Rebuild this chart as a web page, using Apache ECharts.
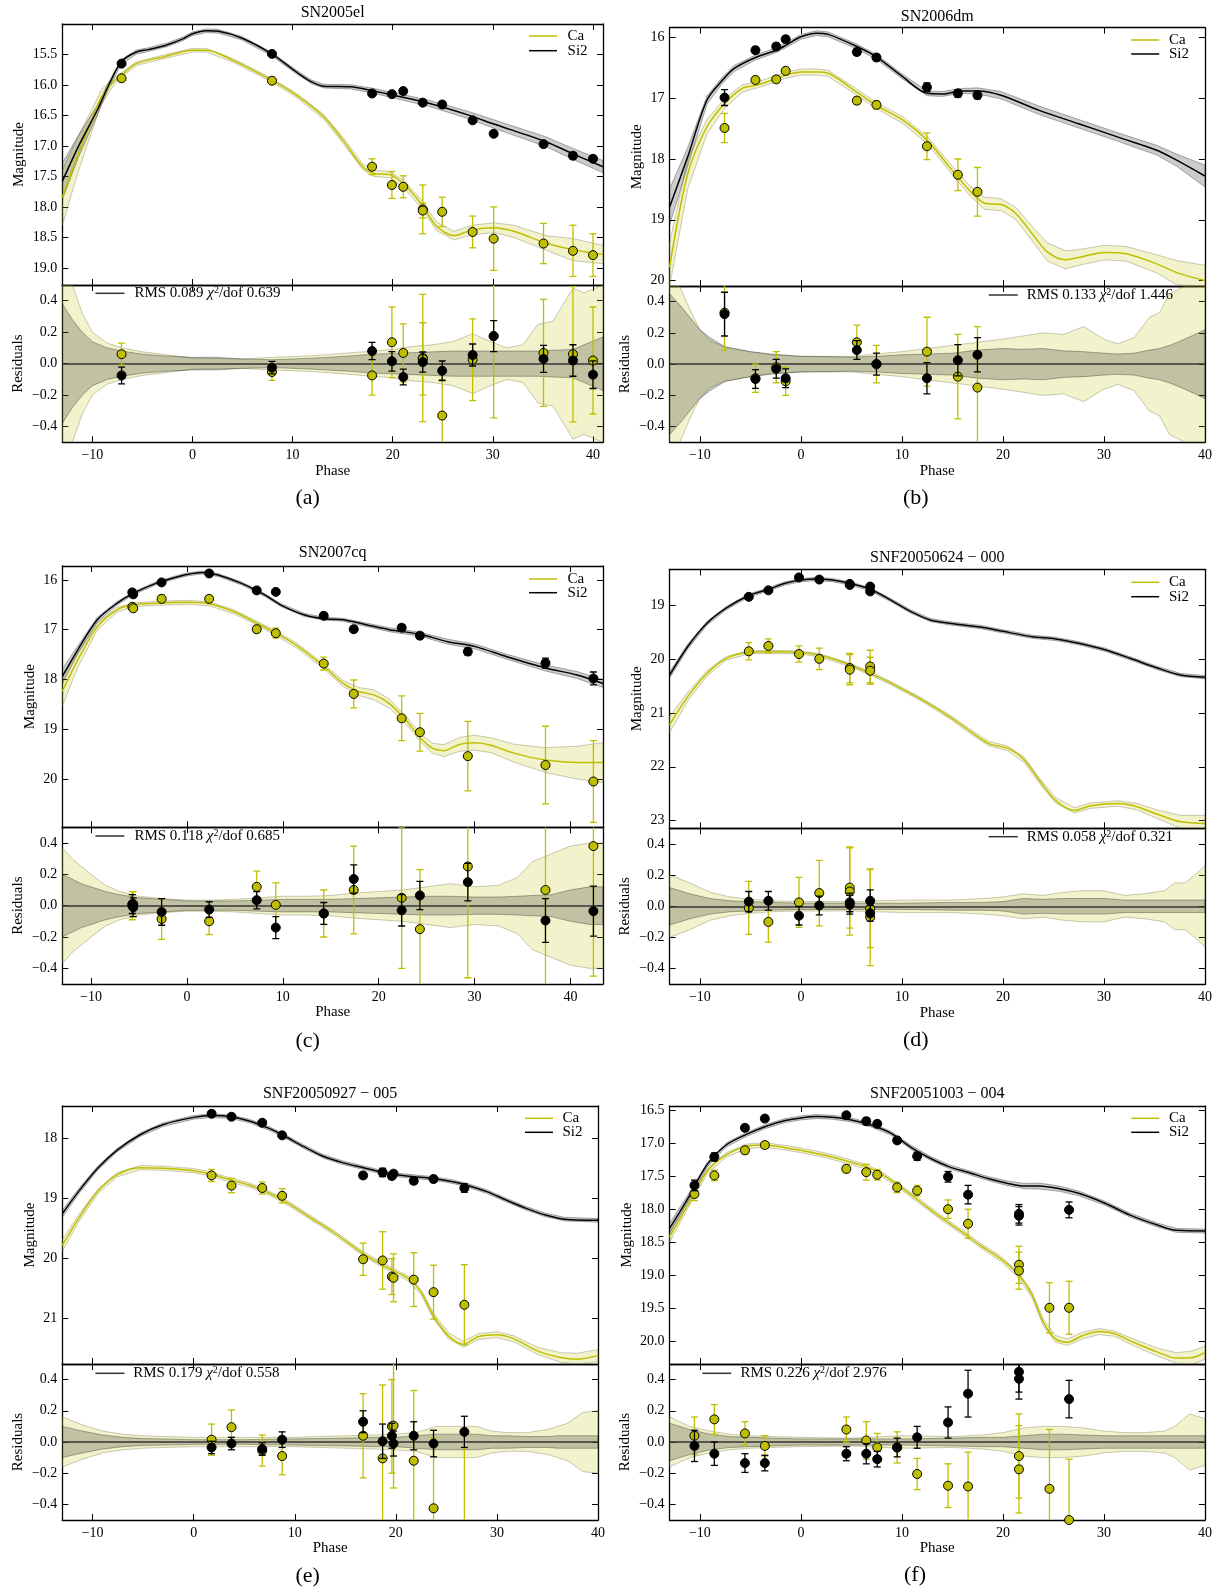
<!DOCTYPE html>
<html>
<head>
<meta charset="utf-8">
<script src="https://cdn.jsdelivr.net/npm/echarts@6/dist/echarts.min.js"></script>
<style>html,body{margin:0;padding:0;background:#fff;}#chart{width:1222px;height:1594px;}</style>
</head>
<body>
<div id="chart"></div>
<script>
// ================= DATA =================
const X_TICKS = [-10, 0, 10, 20, 30, 40];
const RES_TICKS = [-0.4, -0.2, 0, 0.2, 0.4];

// ---- (a) SN2005el ----
const A_yTicks = [15.5, 16.0, 16.5, 17.0, 17.5, 18.0, 18.5, 19.0];
const A_siPhase = [-7.08, 7.94, 17.94, 19.92, 21.05, 23.0, 24.94, 27.98, 30.08, 35.06, 38.0, 40.0];
const A_siMag = [15.65, 15.49, 16.14, 16.15, 16.10, 16.29, 16.32, 16.58, 16.80, 16.97, 17.16, 17.21];
const A_siErr = [0.03, 0.025, 0.03, 0.03, 0.03, 0.035, 0.03, 0.035, 0.04, 0.04, 0.05, 0.045];
const A_siRes = [-0.075, -0.025, 0.08, 0.015, -0.085, 0.01, -0.045, 0.055, 0.175, 0.03, 0.02, -0.07];
const A_siResErr = [0.053, 0.04, 0.055, 0.062, 0.05, 0.064, 0.062, 0.07, 0.098, 0.086, 0.1, 0.088];
const A_caPhase = [-7.08, 7.94, 17.94, 19.92, 21.05, 23.0, 23.0, 24.94, 27.98, 30.08, 35.06, 38.0, 40.0];
const A_caMag = [15.89, 15.93, 17.34, 17.64, 17.67, 18.04, 18.06, 18.08, 18.41, 18.52, 18.60, 18.72, 18.79];
const A_caErr = [0.03, 0.03, 0.13, 0.22, 0.18, 0.4, 0.12, 0.24, 0.26, 0.52, 0.33, 0.42, 0.35];
const A_caRes = [0.06, -0.053, -0.075, 0.136, 0.068, 0.036, 0.03, -0.33, 0.025, 0.175, 0.068, 0.06, 0.02];
const A_caResErr = [0.07, 0.053, 0.125, 0.225, 0.185, 0.405, 0.23, 0.23, 0.26, 0.52, 0.34, 0.43, 0.34];
const A_siCurvePhase = [-13, -11.4, -9.5, -8.3, -7.1, -5.6, -4.4, -2.5, -0.9, 0, 1.4, 2.6, 4.9, 7.9, 10.4, 11.9, 13.1, 15.8, 17.9, 20.1, 23.6, 27.5, 30.1, 35.3, 38, 41];
const A_siCurveMag = [17.58, 17.01, 16.41, 15.98, 15.62, 15.46, 15.42, 15.34, 15.24, 15.16, 15.11, 15.12, 15.23, 15.49, 15.79, 15.95, 16.02, 16.03, 16.09, 16.17, 16.30, 16.49, 16.64, 16.93, 17.13, 17.34];
const A_siBand = [0.3, 0.18, 0.08, 0.05, 0.04, 0.035, 0.03, 0.03, 0.03, 0.03, 0.03, 0.03, 0.03, 0.03, 0.03, 0.03, 0.03, 0.035, 0.04, 0.045, 0.05, 0.06, 0.07, 0.08, 0.09, 0.1];
const A_caCurvePhase = [-13, -11.5, -10.3, -9.1, -7.9, -7.1, -5.6, -2.9, 0, 1.4, 4.1, 7.9, 10.4, 13.1, 15.0, 17.0, 18.1, 19.7, 21.2, 22.8, 24.4, 26.1, 27.9, 30.1, 32.1, 35.3, 38, 41];
const A_caCurveMag = [17.85, 17.17, 16.68, 16.2, 15.95, 15.84, 15.65, 15.54, 15.43, 15.43, 15.6, 15.92, 16.17, 16.52, 16.9, 17.34, 17.45, 17.47, 17.64, 17.94, 18.32, 18.47, 18.38, 18.34, 18.40, 18.59, 18.70, 18.78];
const A_caBand = [0.45, 0.3, 0.2, 0.12, 0.06, 0.04, 0.03, 0.03, 0.03, 0.03, 0.03, 0.03, 0.035, 0.04, 0.05, 0.05, 0.05, 0.05, 0.06, 0.07, 0.07, 0.07, 0.08, 0.08, 0.1, 0.12, 0.18, 0.15];
const A_rbPhase = [-13, -12, -11, -10, -8.5, -7, -5, -3, 0, 2.5, 5, 8, 12, 16, 18, 20, 22, 24, 26, 28, 29.4, 31.4, 33, 34.5, 36, 38, 39.1, 41];
const A_rbCa = [0.75, 0.5, 0.32, 0.2, 0.13, 0.1, 0.075, 0.06, 0.035, 0.032, 0.03, 0.04, 0.05, 0.07, 0.08, 0.09, 0.11, 0.12, 0.14, 0.19, 0.15, 0.1, 0.12, 0.25, 0.27, 0.48, 0.45, 0.55];
const A_rbSi = [0.38, 0.28, 0.2, 0.14, 0.1, 0.08, 0.06, 0.05, 0.04, 0.04, 0.03, 0.025, 0.035, 0.05, 0.06, 0.065, 0.07, 0.075, 0.08, 0.08, 0.08, 0.08, 0.08, 0.08, 0.085, 0.09, 0.12, 0.17];

// ---- (b) SN2006dm ----
const B_yTicks = [16, 17, 18, 19, 20];
const B_siPhase = [-7.56, -4.5, -2.44, -1.51, 5.54, 7.48, 12.48, 15.54, 17.48];
const B_siMag = [16.99, 16.21, 16.15, 16.03, 16.24, 16.33, 16.82, 16.92, 16.95];
const B_siErr = [0.13, 0.05, 0.05, 0.05, 0.05, 0.05, 0.07, 0.06, 0.06];
const B_siRes = [0.32, -0.095, -0.03, -0.09, 0.09, 0.0, -0.09, 0.025, 0.06];
const B_siResErr = [0.14, 0.06, 0.06, 0.06, 0.06, 0.07, 0.1, 0.1, 0.11];
const B_caPhase = [-7.56, -4.5, -2.44, -1.51, 5.54, 7.48, 12.48, 15.54, 17.48];
const B_caMag = [17.49, 16.70, 16.69, 16.55, 17.04, 17.11, 17.79, 18.26, 18.54];
const B_caErr = [0.24, 0.06, 0.05, 0.05, 0.06, 0.06, 0.22, 0.26, 0.4];
const B_caRes = [0.33, -0.09, -0.02, -0.11, 0.14, 0.0, 0.08, -0.08, -0.15];
const B_caResErr = [0.24, 0.09, 0.1, 0.09, 0.11, 0.12, 0.22, 0.27, 0.39];
const B_siCurvePhase = [-13, -11.2, -9.3, -7.75, -6.6, -4.5, -2.44, -1.5, 0, 1.55, 2.7, 5.54, 7.48, 10.1, 12.5, 14.0, 15.9, 17.5, 19.8, 23.6, 27.5, 31.4, 35.3, 37.2, 40];
const B_siCurveMag = [18.79, 17.96, 17.03, 16.70, 16.51, 16.33, 16.21, 16.13, 15.99, 15.93, 15.95, 16.15, 16.32, 16.65, 16.92, 16.93, 16.88, 16.88, 16.95, 17.20, 17.42, 17.64, 17.86, 18.02, 18.28];
const B_siBand = [0.3, 0.15, 0.07, 0.05, 0.05, 0.04, 0.04, 0.04, 0.04, 0.04, 0.04, 0.04, 0.04, 0.04, 0.04, 0.04, 0.04, 0.05, 0.06, 0.07, 0.07, 0.07, 0.08, 0.1, 0.18];
const B_caCurvePhase = [-13, -11.2, -9.3, -7.56, -5.8, -4.5, -2.44, -1.5, 0, 1.55, 2.7, 5.54, 7.48, 10.1, 12.5, 14.7, 16.7, 18.2, 19.8, 21.3, 22.9, 24.4, 26.2, 27.5, 30.1, 32.2, 35.3, 37.2, 40];
const B_caCurveMag = [19.78, 18.24, 17.47, 17.09, 16.84, 16.79, 16.68, 16.62, 16.57, 16.57, 16.59, 16.90, 17.12, 17.36, 17.69, 18.13, 18.52, 18.73, 18.75, 18.90, 19.23, 19.53, 19.66, 19.62, 19.54, 19.56, 19.73, 19.87, 20.0];
const B_caBand = [0.4, 0.25, 0.12, 0.08, 0.06, 0.05, 0.05, 0.05, 0.05, 0.05, 0.05, 0.05, 0.05, 0.055, 0.06, 0.07, 0.08, 0.1, 0.1, 0.1, 0.12, 0.15, 0.15, 0.13, 0.12, 0.12, 0.15, 0.2, 0.25];
const B_rbPhase = [-13, -12, -11, -10, -9, -7.5, -5, -3, 0, 5, 7.5, 10, 12.5, 15, 17.5, 20, 22, 24, 26, 28, 30, 31.4, 33, 34.5, 35.5, 36.5, 38, 40];
const B_rbCa = [1.0, 0.6, 0.35, 0.22, 0.15, 0.11, 0.08, 0.06, 0.05, 0.05, 0.065, 0.08, 0.1, 0.12, 0.14, 0.16, 0.18, 0.2, 0.19, 0.24, 0.16, 0.13, 0.17, 0.3, 0.33, 0.45, 0.5, 0.7];
const B_rbSi = [0.45, 0.38, 0.3, 0.22, 0.17, 0.11, 0.08, 0.065, 0.05, 0.045, 0.05, 0.06, 0.065, 0.07, 0.09, 0.1, 0.095, 0.1, 0.085, 0.08, 0.07, 0.065, 0.07, 0.09, 0.1, 0.12, 0.16, 0.22];

// ---- (c) SN2007cq ----
const C_yTicks = [16, 17, 18, 19, 20];
const C_siPhase = [-5.7, -5.6, -2.64, 2.32, 7.28, 9.27, 14.27, 17.4, 22.4, 24.3, 29.3, 37.4, 42.4];
const C_siMag = [16.25, 16.29, 16.05, 15.87, 16.21, 16.24, 16.72, 16.99, 16.96, 17.12, 17.44, 17.67, 17.98];
const C_siErr = [0.04, 0.04, 0.05, 0.03, 0.04, 0.04, 0.05, 0.06, 0.06, 0.06, 0.07, 0.1, 0.13];
const C_siRes = [0.01, -0.01, -0.04, -0.025, 0.035, -0.14, -0.05, 0.17, -0.03, 0.065, 0.15, -0.095, -0.035];
const C_siResErr = [0.06, 0.06, 0.085, 0.05, 0.055, 0.07, 0.07, 0.09, 0.1, 0.09, 0.12, 0.14, 0.16];
const C_caPhase = [-5.7, -5.6, -2.64, 2.32, 7.28, 9.27, 14.27, 17.4, 22.4, 24.3, 29.3, 37.4, 42.4];
const C_caMag = [16.54, 16.57, 16.38, 16.38, 16.99, 17.07, 17.68, 18.29, 18.78, 19.06, 19.54, 19.72, 20.05];
const C_caErr = [0.05, 0.05, 0.08, 0.06, 0.07, 0.1, 0.13, 0.28, 0.45, 0.38, 0.7, 0.78, 0.82];
const C_caRes = [0.0, 0.01, -0.085, -0.1, 0.12, 0.005, -0.05, 0.1, 0.05, -0.15, 0.25, 0.1, 0.38];
const C_caResErr = [0.09, 0.08, 0.13, 0.085, 0.1, 0.14, 0.15, 0.28, 0.45, 0.38, 0.71, 0.78, 0.83];
const C_siCurvePhase = [-13, -11.4, -9.35, -7.3, -5.6, -3.25, -1.6, 0, 1.6, 3.25, 5.7, 8.1, 9.75, 12.2, 14.3, 16.3, 18.7, 21.1, 24.3, 27.2, 30.1, 33.3, 37.4, 40.7, 43.4];
const C_siCurveMag = [17.94, 17.41, 16.80, 16.47, 16.27, 16.07, 15.97, 15.89, 15.85, 15.90, 16.07, 16.30, 16.50, 16.70, 16.78, 16.80, 16.90, 17.0, 17.09, 17.24, 17.34, 17.54, 17.77, 17.91, 18.08];
const C_siBand = [0.15, 0.08, 0.05, 0.035, 0.03, 0.03, 0.03, 0.03, 0.03, 0.03, 0.03, 0.03, 0.03, 0.03, 0.03, 0.03, 0.035, 0.04, 0.04, 0.05, 0.05, 0.05, 0.06, 0.07, 0.08];
const C_caCurvePhase = [-13, -11.4, -9.35, -7.3, -5.6, -3.25, 0, 2.3, 4.9, 7.3, 9.3, 11.4, 14.3, 16.3, 17.9, 19.5, 21.1, 22.8, 24.4, 25.6, 26.8, 28.5, 30.0, 31.7, 34.1, 37.4, 40.7, 43.4];
const C_caCurveMag = [18.24, 17.61, 16.94, 16.60, 16.50, 16.47, 16.45, 16.48, 16.64, 16.87, 17.07, 17.31, 17.74, 18.08, 18.24, 18.31, 18.48, 18.81, 19.18, 19.38, 19.43, 19.30, 19.27, 19.32, 19.48, 19.62, 19.67, 19.67];
const C_caBand = [0.3, 0.15, 0.07, 0.05, 0.04, 0.04, 0.04, 0.04, 0.04, 0.04, 0.045, 0.05, 0.05, 0.06, 0.08, 0.1, 0.09, 0.08, 0.08, 0.1, 0.12, 0.14, 0.15, 0.15, 0.18, 0.25, 0.33, 0.4];
const C_rbPhase = [-13, -12, -11, -10, -8.5, -7, -5, -2.5, 0, 2.5, 5, 7.5, 10, 12.5, 15, 17.5, 20, 22.5, 25, 27.5, 30, 32.5, 34.5, 36, 38, 40, 42, 43.4];
const C_rbCa = [0.37, 0.3, 0.25, 0.2, 0.13, 0.09, 0.06, 0.045, 0.035, 0.035, 0.04, 0.05, 0.06, 0.06, 0.065, 0.08, 0.09, 0.1, 0.12, 0.14, 0.12, 0.13, 0.18, 0.28, 0.33, 0.38, 0.4, 0.4];
const C_rbSi = [0.2, 0.17, 0.14, 0.12, 0.09, 0.07, 0.05, 0.04, 0.03, 0.03, 0.03, 0.035, 0.04, 0.04, 0.04, 0.045, 0.05, 0.055, 0.06, 0.06, 0.055, 0.055, 0.06, 0.065, 0.07, 0.1, 0.12, 0.12];

// ---- (d) SNF20050624-000 ----
const D_yTicks = [19, 20, 21, 22, 23];
const D_siPhase = [-5.16, -3.22, -0.19, 1.82, 4.84, 4.84, 6.86, 6.86];
const D_siMag = [18.85, 18.73, 18.49, 18.53, 18.61, 18.63, 18.66, 18.75];
const D_siErr = [0.04, 0.03, 0.03, 0.03, 0.04, 0.04, 0.04, 0.04];
const D_siRes = [0.03, 0.035, -0.06, 0.005, 0.025, 0.01, 0.035, -0.045];
const D_siResErr = [0.065, 0.06, 0.06, 0.06, 0.06, 0.06, 0.07, 0.05];
const D_caPhase = [-5.16, -3.22, -0.19, 1.82, 4.84, 4.84, 6.86, 6.86];
const D_caMag = [19.86, 19.76, 19.91, 20.0, 20.17, 20.2, 20.14, 20.22];
const D_caErr = [0.16, 0.13, 0.15, 0.2, 0.27, 0.28, 0.3, 0.25];
const D_caRes = [-0.01, -0.1, 0.025, 0.085, 0.12, 0.095, -0.015, -0.07];
const D_caResErr = [0.17, 0.13, 0.16, 0.21, 0.26, 0.28, 0.25, 0.31];
const D_siCurvePhase = [-13, -11.2, -9.3, -7.4, -5.2, -3.2, -1.55, 0, 1.55, 3.1, 4.85, 6.86, 8.9, 10.85, 12.8, 14.7, 17.8, 20.0, 22.9, 25.2, 27.5, 30.1, 32.6, 35.3, 37.6, 40];
const D_siCurveMag = [20.30, 19.77, 19.34, 19.06, 18.83, 18.71, 18.60, 18.54, 18.52, 18.54, 18.60, 18.71, 18.91, 19.12, 19.28, 19.34, 19.41, 19.49, 19.59, 19.63, 19.71, 19.83, 19.99, 20.17, 20.30, 20.34];
const D_siBand = [0.06, 0.045, 0.035, 0.03, 0.03, 0.03, 0.03, 0.03, 0.03, 0.03, 0.03, 0.03, 0.03, 0.03, 0.03, 0.03, 0.03, 0.03, 0.03, 0.03, 0.03, 0.03, 0.03, 0.03, 0.03, 0.03];
const D_caCurvePhase = [-13, -11.2, -9.3, -7.4, -5.2, -3.2, -0.2, 1.8, 4.85, 6.86, 8.9, 12.0, 14.7, 17.05, 18.6, 20.5, 22.1, 23.6, 25.2, 27.1, 28.7, 31.4, 33.3, 35.3, 37.6, 40];
const D_caCurveMag = [21.22, 20.70, 20.27, 19.99, 19.88, 19.87, 19.88, 19.93, 20.11, 20.27, 20.45, 20.76, 21.07, 21.38, 21.57, 21.66, 21.87, 22.25, 22.62, 22.81, 22.72, 22.68, 22.74, 22.88, 23.02, 23.05];
const D_caBand = [0.15, 0.08, 0.05, 0.035, 0.03, 0.03, 0.03, 0.03, 0.03, 0.03, 0.03, 0.03, 0.035, 0.04, 0.04, 0.045, 0.05, 0.05, 0.05, 0.05, 0.05, 0.05, 0.06, 0.08, 0.12, 0.15];
const D_rbPhase = [-13, -11, -9, -7, -5, -3, 0, 5, 10, 15, 18, 20, 22, 24, 26, 28, 30, 32, 34, 36, 37, 38, 39, 40];
const D_rbCa = [0.2, 0.15, 0.09, 0.06, 0.045, 0.035, 0.03, 0.03, 0.04, 0.04, 0.05, 0.06, 0.08, 0.07, 0.09, 0.1, 0.1, 0.07, 0.08, 0.1, 0.15, 0.15, 0.2, 0.26];
const D_rbSi = [0.12, 0.08, 0.05, 0.035, 0.03, 0.025, 0.02, 0.02, 0.02, 0.025, 0.025, 0.03, 0.05, 0.045, 0.05, 0.05, 0.05, 0.04, 0.04, 0.04, 0.04, 0.04, 0.04, 0.04];

// ---- (e) SNF20050927-005 ----
const E_yTicks = [18, 19, 20, 21];
const E_siPhase = [1.77, 3.74, 6.78, 8.75, 16.76, 18.69, 19.61, 19.77, 21.77, 23.73, 26.78];
const E_siMag = [17.59, 17.64, 17.74, 17.95, 18.62, 18.57, 18.63, 18.59, 18.71, 18.68, 18.83];
const E_siErr = [0.03, 0.03, 0.03, 0.03, 0.05, 0.07, 0.05, 0.05, 0.05, 0.05, 0.07];
const E_siRes = [-0.035, -0.01, -0.045, 0.015, 0.13, 0.005, 0.04, -0.01, 0.04, -0.01, 0.065];
const E_siResErr = [0.04, 0.04, 0.04, 0.05, 0.07, 0.11, 0.08, 0.08, 0.09, 0.085, 0.1];
const E_caPhase = [1.77, 3.74, 6.78, 8.75, 16.76, 18.69, 19.61, 19.77, 21.77, 23.73, 26.78];
const E_caMag = [18.62, 18.79, 18.83, 18.96, 20.02, 20.04, 20.31, 20.33, 20.36, 20.57, 20.78];
const E_caErr = [0.1, 0.12, 0.1, 0.12, 0.27, 0.48, 0.3, 0.4, 0.45, 0.45, 0.67];
const E_caRes = [0.015, 0.095, -0.055, -0.09, 0.04, -0.105, 0.1, 0.105, -0.12, -0.425, -0.62];
const E_caResErr = [0.1, 0.11, 0.1, 0.12, 0.27, 0.47, 0.3, 0.4, 0.45, 0.45, 0.67];
const E_siCurvePhase = [-13, -11.4, -9.5, -7.6, -5.3, -3.0, 0, 1.8, 3.7, 5.5, 7.4, 8.75, 10.9, 12.8, 14.8, 16.8, 18.7, 20.0, 21.8, 23.7, 25.5, 26.8, 29.0, 30.9, 32.9, 34.8, 36.7, 40];
const E_siCurveMag = [19.26, 18.89, 18.50, 18.20, 17.94, 17.77, 17.65, 17.62, 17.64, 17.71, 17.83, 17.94, 18.14, 18.30, 18.41, 18.49, 18.57, 18.61, 18.64, 18.67, 18.72, 18.77, 18.89, 19.03, 19.17, 19.28, 19.35, 19.37];
const E_siBand = [0.06, 0.045, 0.035, 0.03, 0.03, 0.03, 0.03, 0.03, 0.03, 0.03, 0.03, 0.03, 0.03, 0.03, 0.03, 0.03, 0.03, 0.03, 0.03, 0.03, 0.03, 0.03, 0.03, 0.03, 0.03, 0.03, 0.03, 0.03];
const E_caCurvePhase = [-13, -11.4, -9.5, -7.6, -5.3, -3.0, 0, 1.8, 3.7, 5.5, 7.4, 9.4, 11.7, 14.0, 16.8, 18.7, 20.0, 21.3, 22.5, 23.7, 25.2, 26.7, 28.2, 30, 31.7, 34.0, 36.3, 37.9, 40];
const E_caCurveMag = [19.79, 19.34, 18.89, 18.61, 18.49, 18.50, 18.54, 18.60, 18.70, 18.78, 18.91, 19.09, 19.34, 19.59, 19.93, 20.12, 20.23, 20.35, 20.57, 20.96, 21.30, 21.44, 21.31, 21.28, 21.35, 21.55, 21.66, 21.69, 21.63];
const E_caBand = [0.1, 0.06, 0.04, 0.035, 0.035, 0.035, 0.035, 0.035, 0.035, 0.035, 0.035, 0.035, 0.035, 0.035, 0.035, 0.04, 0.04, 0.04, 0.045, 0.05, 0.05, 0.05, 0.05, 0.05, 0.05, 0.06, 0.08, 0.1, 0.1];
const E_rbPhase = [-13, -11, -9, -7, -5, -3, 0, 5, 10, 15, 18, 20, 22, 24, 26, 28, 29.5, 31, 33, 35, 36, 37, 38.5, 40];
const E_rbCa = [0.16, 0.11, 0.07, 0.05, 0.04, 0.035, 0.03, 0.03, 0.03, 0.04, 0.045, 0.05, 0.06, 0.1, 0.1, 0.1, 0.07, 0.06, 0.06, 0.08, 0.1, 0.12, 0.19, 0.2];
const E_rbSi = [0.1, 0.07, 0.045, 0.03, 0.022, 0.02, 0.015, 0.015, 0.02, 0.025, 0.03, 0.03, 0.04, 0.05, 0.05, 0.05, 0.04, 0.04, 0.035, 0.035, 0.04, 0.04, 0.04, 0.04];

// ---- (f) SNF20051003-004 ----
const F_yTicks = [16.5, 17.0, 17.5, 18.0, 18.5, 19.0, 19.5, 20.0];
const F_siPhase = [-10.54, -8.57, -5.54, -3.57, 4.5, 6.47, 7.56, 9.53, 11.51, 14.57, 16.55, 21.59, 21.59, 26.55];
const F_siMag = [17.64, 17.21, 16.77, 16.63, 16.58, 16.67, 16.71, 16.96, 17.20, 17.51, 17.78, 18.07, 18.10, 18.01];
const F_siErr = [0.08, 0.06, 0.04, 0.04, 0.04, 0.05, 0.04, 0.04, 0.06, 0.08, 0.14, 0.14, 0.14, 0.12];
const F_siRes = [-0.025, -0.075, -0.135, -0.135, -0.075, -0.075, -0.11, -0.035, 0.03, 0.125, 0.31, 0.45, 0.405, 0.275];
const F_siResErr = [0.1, 0.075, 0.06, 0.05, 0.045, 0.065, 0.05, 0.06, 0.07, 0.1, 0.15, 0.13, 0.13, 0.12];
const F_caPhase = [-10.54, -8.57, -5.54, -3.57, 4.5, 6.47, 7.56, 9.53, 11.51, 14.57, 16.55, 21.59, 21.59, 24.61, 26.55];
const F_caMag = [17.77, 17.49, 17.11, 17.03, 17.39, 17.44, 17.48, 17.67, 17.72, 18.0, 18.22, 18.84, 18.93, 19.49, 19.49];
const F_caErr = [0.1, 0.08, 0.06, 0.05, 0.06, 0.12, 0.08, 0.08, 0.08, 0.14, 0.22, 0.28, 0.28, 0.38, 0.4];
const F_caRes = [0.04, 0.145, 0.055, -0.025, 0.08, 0.01, -0.035, -0.035, -0.205, -0.28, -0.285, -0.09, -0.175, -0.3, -0.5];
const F_caResErr = [0.12, 0.095, 0.075, 0.065, 0.08, 0.12, 0.09, 0.1, 0.1, 0.14, 0.22, 0.27, 0.28, 0.38, 0.39];
const F_siCurvePhase = [-13, -11.2, -9.3, -7.4, -5.4, -3.5, -1.55, 0, 1.55, 3.1, 5.0, 7.0, 8.9, 10.85, 12.8, 14.7, 16.7, 18.6, 20.5, 22.1, 23.6, 25.6, 27.5, 30.1, 32.6, 35.3, 37.2, 40];
const F_siCurveMag = [18.29, 17.84, 17.33, 17.03, 16.87, 16.75, 16.66, 16.62, 16.60, 16.61, 16.65, 16.73, 16.85, 17.06, 17.23, 17.36, 17.45, 17.54, 17.61, 17.65, 17.65, 17.69, 17.76, 17.91, 18.09, 18.24, 18.32, 18.33];
const F_siBand = [0.08, 0.05, 0.035, 0.03, 0.03, 0.03, 0.03, 0.03, 0.03, 0.03, 0.03, 0.03, 0.03, 0.03, 0.03, 0.03, 0.03, 0.03, 0.035, 0.04, 0.045, 0.04, 0.035, 0.03, 0.03, 0.03, 0.03, 0.03];
const F_caCurvePhase = [-13, -11.2, -9.3, -7.4, -5.4, -3.6, -1.55, 0, 2.3, 4.5, 6.5, 8.1, 10.1, 12.0, 14.0, 15.9, 17.8, 19.8, 21.6, 22.9, 24.0, 25.2, 26.4, 27.9, 29.5, 31.0, 32.9, 35.3, 37.2, 38.8, 40];
const F_caCurveMag = [18.42, 17.94, 17.43, 17.18, 17.05, 17.03, 17.07, 17.11, 17.18, 17.27, 17.36, 17.48, 17.69, 17.91, 18.14, 18.34, 18.55, 18.75, 19.0, 19.30, 19.71, 19.96, 20.01, 19.91, 19.85, 19.88, 20.01, 20.16, 20.25, 20.24, 20.17];
const F_caBand = [0.08, 0.05, 0.04, 0.035, 0.035, 0.035, 0.035, 0.035, 0.035, 0.035, 0.035, 0.035, 0.035, 0.035, 0.035, 0.035, 0.035, 0.04, 0.04, 0.045, 0.05, 0.05, 0.05, 0.05, 0.045, 0.04, 0.05, 0.06, 0.08, 0.1, 0.1];
const F_rbPhase = [-13, -11, -9, -7, -5, -3, 0, 5, 10, 15, 18, 20, 22, 24, 26, 28, 30, 32, 34, 36, 37, 38.5, 40];
const F_rbCa = [0.16, 0.1, 0.07, 0.05, 0.04, 0.035, 0.03, 0.025, 0.04, 0.035, 0.045, 0.06, 0.09, 0.1, 0.1, 0.09, 0.07, 0.06, 0.06, 0.07, 0.1, 0.18, 0.15];
const F_rbSi = [0.12, 0.08, 0.05, 0.035, 0.03, 0.025, 0.02, 0.02, 0.02, 0.025, 0.03, 0.03, 0.04, 0.05, 0.05, 0.045, 0.04, 0.04, 0.04, 0.04, 0.04, 0.04, 0.04];

// ================= PANEL CONFIG (references data + layout) =================
const PANELS = [
  { sub: '(a)', title: 'SN2005el', rms: '0.089', chi: '0.639',
    si: [A_siPhase, A_siMag, A_siErr, A_siRes, A_siResErr, A_siCurvePhase, A_siCurveMag, A_siBand],
    ca: [A_caPhase, A_caMag, A_caErr, A_caRes, A_caResErr, A_caCurvePhase, A_caCurveMag, A_caBand],
    rb: [A_rbPhase, A_rbCa, A_rbSi], yTicks: A_yTicks, dec: 1, y: [15.0, 19.28], x: [-13, 41],
    L: { l: 62.3, r: 603, mt: 24, mb: 285, rb: 442.3, magGap: 36, resGap: 37, titleY: 12.7, subX: 307.7, subY: 498,
         lgX: 529, lgY1: 36, lgY2: 50.7, lgT: 567.6, rmX: 95.4, rmY: 293.3, rmT: 134.4 } },
  { sub: '(b)', title: 'SN2006dm', rms: '0.133', chi: '1.446',
    si: [B_siPhase, B_siMag, B_siErr, B_siRes, B_siResErr, B_siCurvePhase, B_siCurveMag, B_siBand],
    ca: [B_caPhase, B_caMag, B_caErr, B_caRes, B_caResErr, B_caCurvePhase, B_caCurveMag, B_caBand],
    rb: [B_rbPhase, B_rbCa, B_rbSi], yTicks: B_yTicks, dec: 0, y: [15.84, 20.09], x: [-13, 40],
    L: { l: 669.6, r: 1204.9, mt: 27.7, mb: 286, rb: 442.3, magGap: 25, resGap: 37, titleY: 16.7, subX: 915.8, subY: 498.3,
         lgX: 1131.2, lgY1: 40, lgY2: 54, lgT: 1169, rmX: 988.7, rmY: 295, rmT: 1026.8 } },
  { sub: '(c)', title: 'SN2007cq', rms: '0.118', chi: '0.685',
    si: [C_siPhase, C_siMag, C_siErr, C_siRes, C_siResErr, C_siCurvePhase, C_siCurveMag, C_siBand],
    ca: [C_caPhase, C_caMag, C_caErr, C_caRes, C_caResErr, C_caCurvePhase, C_caCurveMag, C_caBand],
    rb: [C_rbPhase, C_rbCa, C_rbSi], yTicks: C_yTicks, dec: 0, y: [15.72, 20.97], x: [-13, 43.4],
    L: { l: 62.3, r: 603, mt: 566, mb: 827.3, rb: 984, magGap: 25, resGap: 37, titleY: 552.7, subX: 307.7, subY: 1041.7,
         lgX: 529, lgY1: 579, lgY2: 592.7, lgT: 567.6, rmX: 95.4, rmY: 836, rmT: 134.4 } },
  { sub: '(d)', title: 'SNF20050624 \u2212 000', rms: '0.058', chi: '0.321',
    si: [D_siPhase, D_siMag, D_siErr, D_siRes, D_siResErr, D_siCurvePhase, D_siCurveMag, D_siBand],
    ca: [D_caPhase, D_caMag, D_caErr, D_caRes, D_caResErr, D_caCurvePhase, D_caCurveMag, D_caBand],
    rb: [D_rbPhase, D_rbCa, D_rbSi], yTicks: D_yTicks, dec: 0, y: [18.34, 23.14], x: [-13, 40],
    L: { l: 669.6, r: 1204.9, mt: 569.3, mb: 828.3, rb: 984.3, magGap: 25, resGap: 37, titleY: 557.3, subX: 915.8, subY: 1040,
         lgX: 1131.2, lgY1: 582.3, lgY2: 596.7, lgT: 1169, rmX: 988.7, rmY: 836.7, rmT: 1026.8 } },
  { sub: '(e)', title: 'SNF20050927 \u2212 005', rms: '0.179', chi: '0.558',
    si: [E_siPhase, E_siMag, E_siErr, E_siRes, E_siResErr, E_siCurvePhase, E_siCurveMag, E_siBand],
    ca: [E_caPhase, E_caMag, E_caErr, E_caRes, E_caResErr, E_caCurvePhase, E_caCurveMag, E_caBand],
    rb: [E_rbPhase, E_rbCa, E_rbSi], yTicks: E_yTicks, dec: 0, y: [17.46, 21.77], x: [-13, 40],
    L: { l: 62.3, r: 598, mt: 1106, mb: 1364, rb: 1520, magGap: 25, resGap: 37, titleY: 1093.3, subX: 307.7, subY: 1576.7,
         lgX: 525, lgY1: 1118.3, lgY2: 1132.3, lgT: 562.5, rmX: 95.4, rmY: 1373.3, rmT: 133.2 } },
  { sub: '(f)', title: 'SNF20051003 \u2212 004', rms: '0.226', chi: '2.976',
    si: [F_siPhase, F_siMag, F_siErr, F_siRes, F_siResErr, F_siCurvePhase, F_siCurveMag, F_siBand],
    ca: [F_caPhase, F_caMag, F_caErr, F_caRes, F_caResErr, F_caCurvePhase, F_caCurveMag, F_caBand],
    rb: [F_rbPhase, F_rbCa, F_rbSi], yTicks: F_yTicks, dec: 1, y: [16.44, 20.34], x: [-13, 40],
    L: { l: 669.6, r: 1204.9, mt: 1106, mb: 1364, rb: 1520, magGap: 35, resGap: 37, titleY: 1094, subX: 915, subY: 1575,
         lgX: 1131.2, lgY1: 1118.3, lgY2: 1132.3, lgT: 1169, rmX: 702.3, rmY: 1373.3, rmT: 740.5 } }
];

// ================= BUILD =================
const FONT = 'Liberation Serif';
const CA_COL = '#bfbf00';
const CA_FILL = 'rgba(191,191,0,0.2)';
const CA_EDGE = 'rgba(110,110,60,0.35)';
const SI_FILL = 'rgba(0,0,0,0.2)';
const SI_EDGE = 'rgba(0,0,0,0.3)';
const minus = s => String(s).replace('-', '\u2212');

function bandSeries(xi, yi, phases, center, half, fill, stroke, ext, z) {
  const n = Math.min(phases.length, half.length, center ? center.length : Infinity);
  const data = [];
  for (let i = 0; i < n; i++) {
    const c = center ? center[i] : 0;
    data.push([phases[i], c - half[i], c + half[i]]);
  }
  const clampV = v => Math.max(ext[0], Math.min(ext[1], v));
  return {
    type: 'custom', xAxisIndex: xi, yAxisIndex: yi, z: z, silent: true, clip: true,
    data: data,
    renderItem: function (params, api) {
      if (params.dataIndexInside !== 0) return null;
      const m = params.dataInsideLength;
      const up = [], lo = [];
      for (let i = 0; i < m; i++) {
        const x = api.value(0, i);
        up.push(api.coord([x, clampV(api.value(2, i))]));
        lo.push(api.coord([x, clampV(api.value(1, i))]));
      }
      return { type: 'polygon', shape: { points: up.concat(lo.reverse()) },
               style: { fill: fill, stroke: stroke, lineWidth: 1 } };
    }
  };
}

function errSeries(xi, yi, phases, vals, errs, color, ext, z) {
  const data = phases.map((p, i) => [p, vals[i], errs[i]]);
  return {
    type: 'custom', xAxisIndex: xi, yAxisIndex: yi, z: z, silent: true, clip: true,
    data: data,
    renderItem: function (params, api) {
      const x = api.value(0), v = api.value(1), e = api.value(2);
      const lo = v - e, hi = v + e;
      const loC = Math.max(lo, ext[0]), hiC = Math.min(hi, ext[1]);
      if (loC >= hiC) return null;
      const p1 = api.coord([x, loC]), p2 = api.coord([x, hiC]);
      const st = { stroke: color, lineWidth: 1.3 };
      const ch = [{ type: 'line', shape: { x1: p1[0], y1: p1[1], x2: p2[0], y2: p2[1] }, style: st }];
      const cw = 3.5;
      if (lo >= ext[0]) ch.push({ type: 'line', shape: { x1: p1[0] - cw, y1: p1[1], x2: p1[0] + cw, y2: p1[1] }, style: st });
      if (hi <= ext[1]) ch.push({ type: 'line', shape: { x1: p2[0] - cw, y1: p2[1], x2: p2[0] + cw, y2: p2[1] }, style: st });
      return { type: 'group', children: ch };
    }
  };
}

function scatterSeries(xi, yi, phases, vals, fill, z, extra) {
  const s = {
    type: 'scatter', xAxisIndex: xi, yAxisIndex: yi, z: z, silent: true, clip: true,
    symbol: 'circle', symbolSize: 9,
    data: phases.map((p, i) => [p, vals[i]]),
    itemStyle: { color: fill, borderColor: '#000', borderWidth: 1, opacity: 1 }
  };
  return Object.assign(s, extra || {});
}

function lineSeries(xi, yi, phases, vals, color, z) {
  return {
    type: 'line', xAxisIndex: xi, yAxisIndex: yi, z: z, silent: true, clip: true,
    symbol: 'none', showSymbol: false, smooth: 0.3,
    data: phases.map((p, i) => [p, vals[i]]),
    lineStyle: { color: color, width: 1.5 }
  };
}

const AXLINE = { show: true, onZero: false, lineStyle: { color: '#000', width: 1.3 } };
function ticks(vals) { return { show: true, inside: true, length: 6, customValues: vals, lineStyle: { color: '#000', width: 1 } }; }
const LABEL_BASE = { fontFamily: FONT, fontSize: 14, color: '#000' };

const option = {
  animation: false,
  backgroundColor: '#fff',
  grid: [], xAxis: [], yAxis: [], series: [], graphic: []
};

PANELS.forEach(function (P, k) {
  const L = P.L;
  const w = L.r - L.l;
  const gM = 2 * k, gR = 2 * k + 1;
  option.grid.push({ left: L.l, top: L.mt, width: w, height: L.mb - L.mt, show: false, containLabel: false, outerBoundsMode: 'none' });
  option.grid.push({ left: L.l, top: L.mb, width: w, height: L.rb - L.mb, show: false, containLabel: false, outerBoundsMode: 'none' });

  const xFmt = v => minus(String(Math.round(v)));
  const xBase = (gi, pos, lab, name) => ({
    type: 'value', gridIndex: gi, position: pos, min: P.x[0], max: P.x[1],
    axisLine: AXLINE, axisTick: ticks(X_TICKS), splitLine: { show: false },
    axisLabel: lab ? Object.assign({ show: true, customValues: X_TICKS, margin: 6, formatter: xFmt }, LABEL_BASE) : { show: false },
    name: name || '', nameLocation: 'middle', nameGap: 20,
    nameTextStyle: { fontFamily: FONT, fontSize: 15, color: '#000' }
  });
  option.xAxis.push(xBase(gM, 'bottom', false));
  option.xAxis.push(xBase(gM, 'top', false));
  option.xAxis.push(xBase(gR, 'bottom', true, 'Phase'));
  option.xAxis.push(xBase(gR, 'top', false));

  const yFmt = v => (P.dec ? v.toFixed(1) : String(Math.round(v)));
  const yMain = (pos, lab) => ({
    type: 'value', gridIndex: gM, position: pos, inverse: true, min: P.y[0], max: P.y[1],
    axisLine: AXLINE, axisTick: ticks(P.yTicks), splitLine: { show: false },
    axisLabel: lab ? Object.assign({ show: true, customValues: P.yTicks, margin: 5, formatter: yFmt }, LABEL_BASE) : { show: false },
    name: lab ? 'Magnitude' : '', nameLocation: 'middle', nameGap: L.magGap,
    nameTextStyle: { fontFamily: FONT, fontSize: 15, color: '#000' }
  });
  option.yAxis.push(yMain('left', true));
  option.yAxis.push(yMain('right', false));
  const rFmt = v => minus(v.toFixed(1));
  const yRes = (pos, lab) => ({
    type: 'value', gridIndex: gR, position: pos, min: -0.5, max: 0.5,
    axisLine: AXLINE, axisTick: ticks(RES_TICKS), splitLine: { show: false },
    axisLabel: lab ? Object.assign({ show: true, customValues: RES_TICKS, margin: 5, formatter: rFmt }, LABEL_BASE) : { show: false },
    name: lab ? 'Residuals' : '', nameLocation: 'middle', nameGap: L.resGap,
    nameTextStyle: { fontFamily: FONT, fontSize: 15, color: '#000' }
  });
  option.yAxis.push(yRes('left', true));
  option.yAxis.push(yRes('right', false));

  const xm = 4 * k, ym = 4 * k, xr = 4 * k + 2, yr = 4 * k + 2;
  const extM = [P.y[0], P.y[1]], extR = [-0.5, 0.5];
  const si = P.si, ca = P.ca, rb = P.rb;

  // main panel
  option.series.push(bandSeries(xm, ym, ca[5], ca[6], ca[7], CA_FILL, CA_EDGE, extM, 1));
  option.series.push(bandSeries(xm, ym, si[5], si[6], si[7], SI_FILL, SI_EDGE, extM, 1));
  option.series.push(lineSeries(xm, ym, ca[5], ca[6], CA_COL, 2));
  option.series.push(lineSeries(xm, ym, si[5], si[6], '#000', 2));
  option.series.push(errSeries(xm, ym, ca[0], ca[1], ca[2], CA_COL, extM, 3));
  option.series.push(scatterSeries(xm, ym, ca[0], ca[1], CA_COL, 4));
  option.series.push(errSeries(xm, ym, si[0], si[1], si[2], '#000', extM, 5));
  option.series.push(scatterSeries(xm, ym, si[0], si[1], '#000', 6));

  // residual panel
  option.series.push(bandSeries(xr, yr, rb[0], null, rb[1], CA_FILL, CA_EDGE, extR, 1));
  option.series.push(bandSeries(xr, yr, rb[0], null, rb[2], SI_FILL, SI_EDGE, extR, 1));
  option.series.push(errSeries(xr, yr, ca[0], ca[3], ca[4], CA_COL, extR, 3));
  option.series.push(scatterSeries(xr, yr, ca[0], ca[3], CA_COL, 4, {
    markLine: { silent: true, z: 2, symbol: ['none', 'none'], label: { show: false }, animation: false,
                lineStyle: { color: '#333', width: 1.5, type: 'solid' }, data: [{ yAxis: 0 }] }
  }));
  option.series.push(errSeries(xr, yr, si[0], si[3], si[4], '#000', extR, 5));
  option.series.push(scatterSeries(xr, yr, si[0], si[3], '#000', 6));

  // texts & legends
  const txt = (x, y, s, size, align) => ({
    type: 'text', x: x, y: y, z: 100, silent: true,
    style: { text: s, font: size + 'px "' + FONT + '"', fill: '#000',
             align: align || 'center', verticalAlign: 'middle', textAlign: align || 'center', textVerticalAlign: 'middle' }
  });
  const seg = (x, y, len, col) => ({
    type: 'line', z: 100, silent: true, shape: { x1: x, y1: y, x2: x + len, y2: y }, style: { stroke: col, lineWidth: 1.5 }
  });
  option.graphic.push(txt((L.l + L.r) / 2, L.titleY, P.title, 16));
  option.graphic.push(txt(L.subX, L.subY, P.sub, 22));
  option.graphic.push(seg(L.lgX, L.lgY1, 28, CA_COL));
  option.graphic.push(seg(L.lgX, L.lgY2, 28, '#000'));
  option.graphic.push(txt(L.lgT, L.lgY1, 'Ca', 15, 'left'));
  option.graphic.push(txt(L.lgT, L.lgY2, 'Si2', 15, 'left'));
  option.graphic.push(seg(L.rmX, L.rmY, 29, '#333'));
  option.graphic.push({
    type: 'text', x: L.rmT, y: L.rmY, z: 100, silent: true,
    style: {
      text: 'RMS ' + P.rms + ' {c|\u03c7}{s|2}/dof ' + P.chi,
      font: '15px "' + FONT + '"', fill: '#000',
      align: 'left', verticalAlign: 'middle', textAlign: 'left', textVerticalAlign: 'middle',
      rich: {
        c: { fontFamily: FONT, fontSize: 15, fontStyle: 'italic', fill: '#000' },
        s: { fontFamily: FONT, fontSize: 10, fill: '#000', verticalAlign: 'top' }
      }
    }
  });
});

const chart = echarts.init(document.getElementById('chart'), null, { renderer: 'canvas', devicePixelRatio: 1 });
chart.setOption(option);
</script>
</body>
</html>
